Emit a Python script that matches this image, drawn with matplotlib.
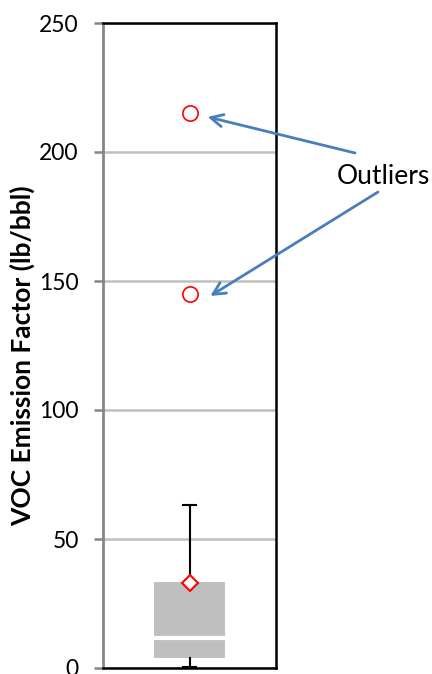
import matplotlib
matplotlib.use("Agg")
import matplotlib.pyplot as plt

plt.rcParams['font.family'] = ['Lato', 'DejaVu Sans']

# box plot summary (lb/bbl)
box_stats = dict(q1=4.0, med=11.6, q3=33.3, whislo=0.5, whishi=63.2, mean=32.9)
outliers = [215, 145]
yticks = [0, 50, 100, 150, 200, 250]
ylabel = 'VOC Emission Factor (lb/bbl)'

fig = plt.figure(figsize=(4.32, 6.74), dpi=100)
ax = fig.add_axes([103/432, 6/674, 173/432, 645/674])

stats = [dict(label='', fliers=outliers, **box_stats)]
ax.bxp(stats, positions=[1], widths=0.405, patch_artist=True,
       showmeans=True, showfliers=True, capwidths=0.07,
       boxprops=dict(facecolor='#bfbfbf', edgecolor='none', linewidth=0),
       medianprops=dict(color='white', linewidth=3),
       whiskerprops=dict(color='black', linewidth=1.5),
       capprops=dict(color='black', linewidth=1.5),
       meanprops=dict(marker='D', markerfacecolor='white', markeredgecolor='red',
                      markersize=8, markeredgewidth=1.5),
       flierprops=dict(marker='o', markerfacecolor='none', markeredgecolor='red',
                       markersize=11, markeredgewidth=1.2))
for a in ax.get_children():
    try:
        a.set_clip_on(False)
    except Exception:
        pass

ax.set_xlim(0.5, 1.5)
ax.set_ylim(0, 250)
ax.set_yticks(yticks)
ax.set_xticks([])
ax.yaxis.grid(True, color='#c0c0c0', linewidth=1.8)
ax.set_axisbelow(True)
ax.tick_params(axis='y', direction='out', length=6.5, width=1.8, color='#868686',
               labelsize=16.5, pad=11)
ax.spines['left'].set_color('#868686')
ax.spines['left'].set_linewidth(2)
for s in ['right', 'top', 'bottom']:
    ax.spines[s].set_color('black')
    ax.spines[s].set_linewidth(1.8)
ax.set_ylabel(ylabel, fontsize=19, fontweight='bold', va='center')
ax.yaxis.set_label_coords(-0.468, 0.484)

arrow = dict(arrowstyle='->', color='#4a7ebb', lw=2, shrinkA=0, shrinkB=0,
             mutation_scale=22)
ax.annotate('', xy=(1.105, 213.6), xytext=(355/432, 1-153/674),
            textcoords='figure fraction', arrowprops=arrow, annotation_clip=False)
ax.annotate('', xy=(1.12, 144.2), xytext=(378/432, 1-192/674),
            textcoords='figure fraction', arrowprops=arrow, annotation_clip=False)
fig.text(383/432, 1-177/674, 'Outliers', ha='center', va='center', fontsize=19)

fig.savefig('out.png', dpi=100)
